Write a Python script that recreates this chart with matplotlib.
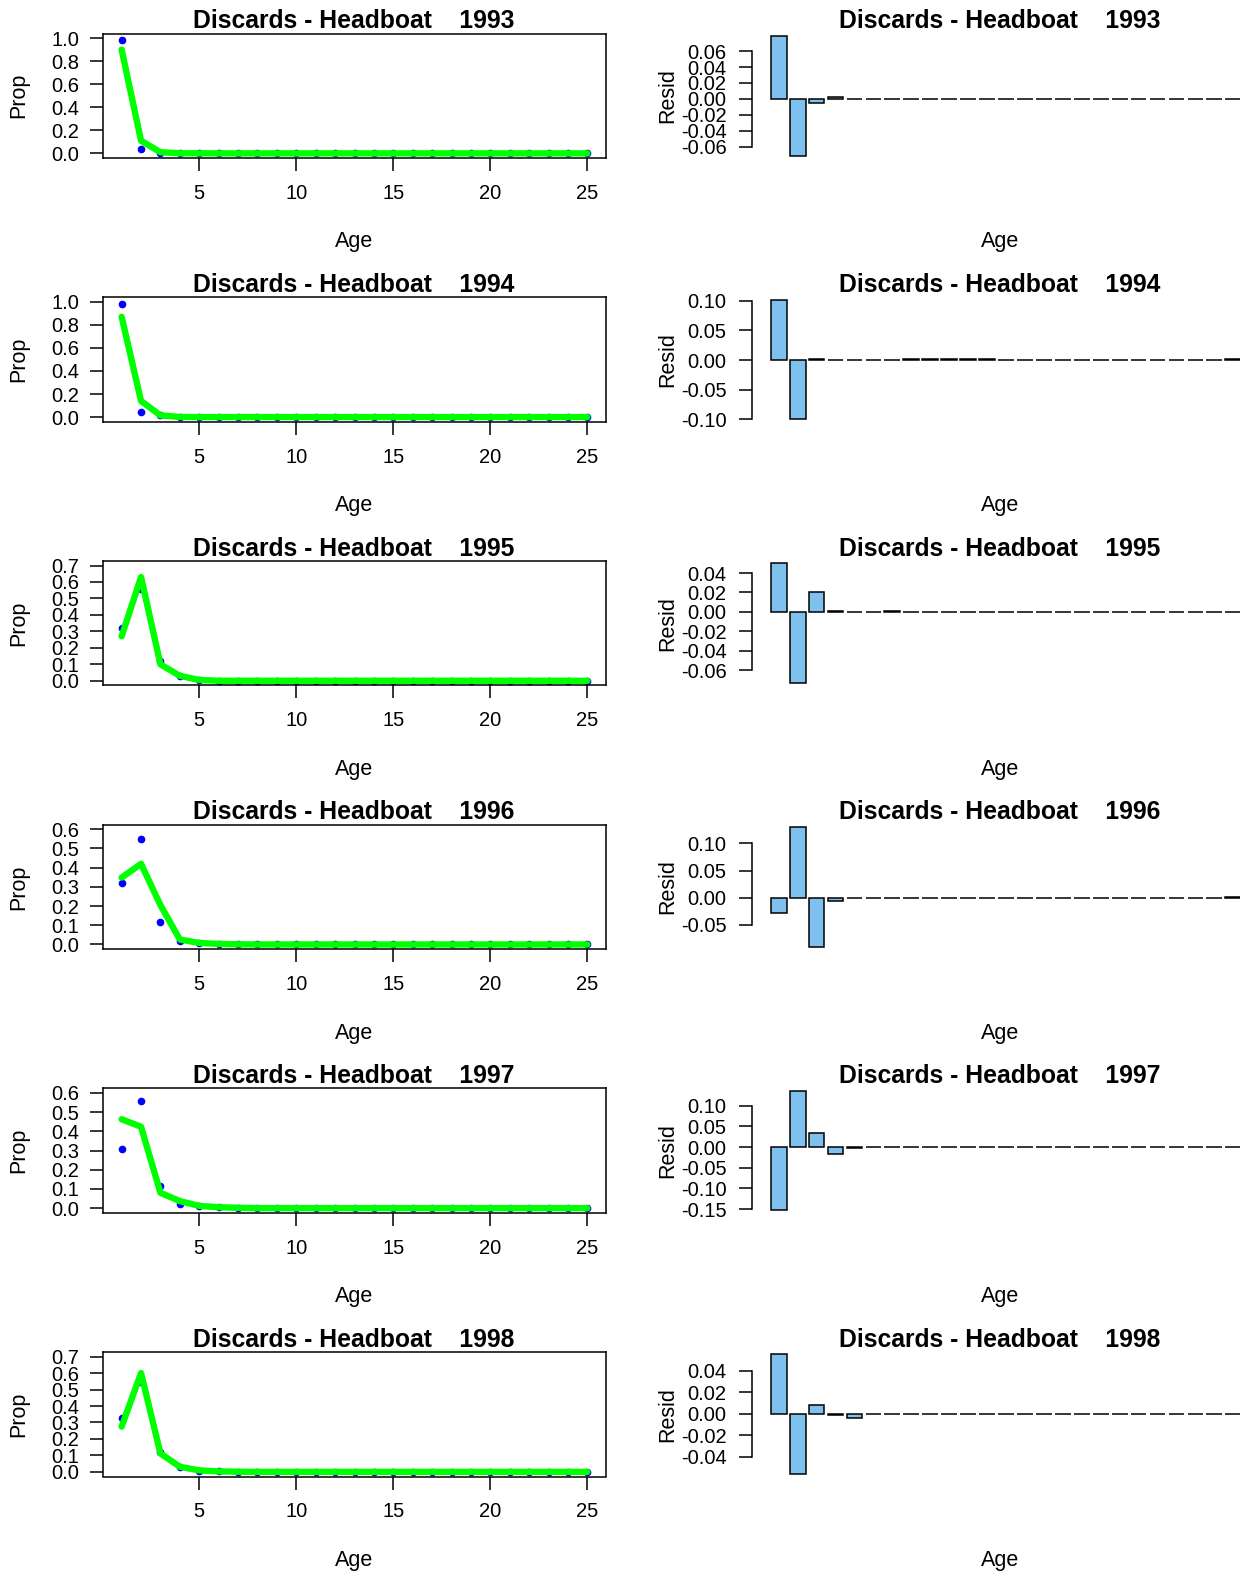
import numpy as np
import matplotlib
matplotlib.use("Agg")
import matplotlib.pyplot as plt

plt.rcParams['font.family'] = ['Liberation Sans', 'DejaVu Sans']

# ---------------- data ----------------
ages = list(range(1, 26))
years = [1993, 1994, 1995, 1996, 1997, 1998]

obs_1993 = [0.98, 0.04, 0.005, 0.002, 0, 0, 0, 0, 0, 0, 0, 0, 0, 0, 0, 0, 0, 0, 0, 0, 0, 0, 0, 0, 0]
pred_1993 = [0.90, 0.11, 0.010, 0.001, 0.0005, 0, 0, 0, 0, 0, 0, 0, 0, 0, 0, 0, 0, 0, 0, 0, 0, 0, 0, 0, 0]
res_1993 = [0.079, -0.071, -0.005, 0.002, 0, 0, 0, 0, 0, 0, 0, 0, 0, 0, 0, 0, 0, 0, 0, 0, 0, 0, 0, 0, 0]

obs_1994 = [0.98, 0.04, 0.017, 0.001, 0, 0, 0, 0.001, 0.001, 0.001, 0.001, 0.001, 0, 0, 0, 0, 0, 0, 0, 0, 0, 0, 0, 0, 0.001]
pred_1994 = [0.87, 0.14, 0.015, 0.001, 0, 0, 0, 0, 0, 0, 0, 0, 0, 0, 0, 0, 0, 0, 0, 0, 0, 0, 0, 0, 0]
res_1994 = [0.102, -0.100, 0.002, 0, 0, 0, 0, 0.001, 0.001, 0.001, 0.001, 0.001, 0, 0, 0, 0, 0, 0, 0, 0, 0, 0, 0, 0, 0.001]

obs_1995 = [0.32, 0.557, 0.121, 0.031, 0.005, 0, 0.001, 0, 0, 0, 0, 0, 0, 0, 0, 0, 0, 0, 0, 0, 0, 0, 0, 0, 0]
pred_1995 = [0.27, 0.63, 0.100, 0.030, 0.005, 0, 0, 0, 0, 0, 0, 0, 0, 0, 0, 0, 0, 0, 0, 0, 0, 0, 0, 0, 0]
res_1995 = [0.050, -0.073, 0.021, 0.001, 0, 0, 0.001, 0, 0, 0, 0, 0, 0, 0, 0, 0, 0, 0, 0, 0, 0, 0, 0, 0, 0]

obs_1996 = [0.32, 0.55, 0.115, 0.02, 0.008, 0.003, 0.001, 0, 0, 0, 0, 0, 0, 0, 0, 0, 0, 0, 0, 0, 0, 0, 0, 0, 0.002]
pred_1996 = [0.348, 0.42, 0.205, 0.026, 0.008, 0.003, 0.001, 0, 0, 0, 0, 0, 0, 0, 0, 0, 0, 0, 0, 0, 0, 0, 0, 0, 0]
res_1996 = [-0.028, 0.130, -0.090, -0.006, 0, 0, 0, 0, 0, 0, 0, 0, 0, 0, 0, 0, 0, 0, 0, 0, 0, 0, 0, 0, 0.002]

obs_1997 = [0.31, 0.56, 0.115, 0.02, 0.009, 0.005, 0.002, 0, 0, 0, 0, 0, 0, 0, 0, 0, 0, 0, 0, 0, 0, 0, 0, 0, 0]
pred_1997 = [0.463, 0.424, 0.08, 0.037, 0.012, 0.005, 0.002, 0, 0, 0, 0, 0, 0, 0, 0, 0, 0, 0, 0, 0, 0, 0, 0, 0, 0]
res_1997 = [-0.153, 0.136, 0.035, -0.017, -0.003, 0, 0, 0, 0, 0, 0, 0, 0, 0, 0, 0, 0, 0, 0, 0, 0, 0, 0, 0, 0]

obs_1998 = [0.33, 0.545, 0.12, 0.03, 0.005, 0.003, 0.001, 0, 0, 0, 0, 0, 0, 0, 0, 0, 0, 0, 0, 0, 0, 0, 0, 0, 0]
pred_1998 = [0.275, 0.60, 0.112, 0.031, 0.009, 0.003, 0.001, 0, 0, 0, 0, 0, 0, 0, 0, 0, 0, 0, 0, 0, 0, 0, 0, 0, 0]
res_1998 = [0.055, -0.056, 0.008, -0.001, -0.0036, 0, 0, 0, 0, 0, 0, 0, 0, 0, 0, 0, 0, 0, 0, 0, 0, 0, 0, 0, 0]

obs_all = [obs_1993, obs_1994, obs_1995, obs_1996, obs_1997, obs_1998]
pred_all = [pred_1993, pred_1994, pred_1995, pred_1996, pred_1997, pred_1998]
res_all = [res_1993, res_1994, res_1995, res_1996, res_1997, res_1998]

left_ymax = [1.0, 1.0, 0.7, 0.6, 0.6, 0.7]
left_ystep = [0.2, 0.2, 0.1, 0.1, 0.1, 0.1]
right_ystep = [0.02, 0.05, 0.02, 0.05, 0.05, 0.02]
x_ticks = [5, 10, 15, 20, 25]

title_fmt = "Discards - Headboat    {}"

# ---------------- layout ----------------
W, H = 1240, 1572
fig = plt.figure(figsize=(W / 100, H / 100), dpi=100)
fig.patch.set_facecolor('white')

def fx(x):
    return x / W

def fy(y):
    return 1 - y / H

period = 263.7
box_top0, box_bot0 = 33.5, 158.0
lx0, lx1 = 103, 606
rx0, rx1 = 752, 1260

TICK_FS = 14.5
LAB_FS = 15.5
TITLE_FS = 17.8
LW = 1.1

def in_ticks(lo, hi, step):
    k0 = int(np.ceil(lo / step - 1e-9))
    k1 = int(np.floor(hi / step + 1e-9))
    return [round(k * step, 6) for k in range(k0, k1 + 1)]

for r, yr in enumerate(years):
    top = box_top0 + r * period
    bot = box_bot0 + r * period

    # ---------- left: observed vs predicted ----------
    axl = fig.add_axes([fx(lx0), fy(bot), fx(lx1) - fx(lx0), (bot - top) / H])
    axl.plot(ages, obs_all[r], linestyle='none', marker='o', markersize=4.5,
             color='#0000FF', zorder=2)
    axl.plot(ages, pred_all[r], color='#00FF00', linewidth=4.6, zorder=3,
             solid_joinstyle='round', solid_capstyle='round')
    ext = 0.04 * 24
    axl.set_xlim(1 - ext, 25 + ext)
    ymax = left_ymax[r]
    axl.set_ylim(-0.04 * ymax, ymax * 1.04)
    axl.set_xticks(x_ticks)
    axl.set_xticklabels([str(t) for t in x_ticks])
    yt = in_ticks(0, ymax, left_ystep[r])
    axl.set_yticks(yt)
    axl.set_yticklabels(["%.1f" % t for t in yt])
    for s in axl.spines.values():
        s.set_linewidth(LW)
        s.set_color('black')
    axl.tick_params(axis='both', direction='out', length=9.2, width=LW,
                    labelsize=TICK_FS, colors='black')
    axl.tick_params(axis='x', pad=9.5)
    axl.tick_params(axis='y', pad=8.0)

    # ---------- right: residual bars ----------
    axr = fig.add_axes([fx(rx0), fy(bot), fx(rx1) - fx(rx0), (bot - top) / H])
    centers = [1.2 * a - 0.5 for a in ages]
    axr.bar(centers, res_all[r], width=1.0, color='#7EC0EE', edgecolor='black',
            linewidth=LW, zorder=2)
    axr.set_xlim(0.2 - 0.04 * 29.8, 30 + 0.04 * 29.8)
    rmin, rmax = min(res_all[r]), max(res_all[r])
    rng = rmax - rmin
    axr.set_ylim(rmin - 0.02 * rng, rmax + 0.02 * rng)
    ryt = in_ticks(rmin, rmax, right_ystep[r])
    axr.set_yticks(ryt)
    axr.set_yticklabels([("%.2f" % t).replace("-0.00", "0.00") for t in ryt])
    for k in ['top', 'right', 'bottom']:
        axr.spines[k].set_visible(False)
    axr.spines['left'].set_linewidth(LW)
    axr.spines['left'].set_bounds(ryt[0], ryt[-1])
    axr.xaxis.set_visible(False)
    axr.tick_params(axis='y', direction='out', length=9.2, width=LW,
                    labelsize=TICK_FS, colors='black', pad=9.0)
    axr.patch.set_alpha(0)

    # ---------- texts ----------
    tb = 28.2 + r * period
    fig.text(fx(354), fy(tb), title_fmt.format(yr), ha='center', va='baseline',
             fontsize=TITLE_FS, fontweight='bold')
    fig.text(fx(1000), fy(tb), title_fmt.format(yr), ha='center', va='baseline',
             fontsize=TITLE_FS, fontweight='bold')
    ab = 247.5 + r * period
    fig.text(fx(354), fy(ab), "Age", ha='center', va='baseline', fontsize=LAB_FS)
    fig.text(fx(1000), fy(ab), "Age", ha='center', va='baseline', fontsize=LAB_FS)
    yc = (top + bot) / 2
    fig.text(fx(19), fy(yc), "Prop", ha='center', va='center', rotation=90,
             fontsize=LAB_FS)
    fig.text(fx(668), fy(yc), "Resid", ha='center', va='center', rotation=90,
             fontsize=LAB_FS)

fig.savefig("out.png", dpi=100, facecolor='white')
